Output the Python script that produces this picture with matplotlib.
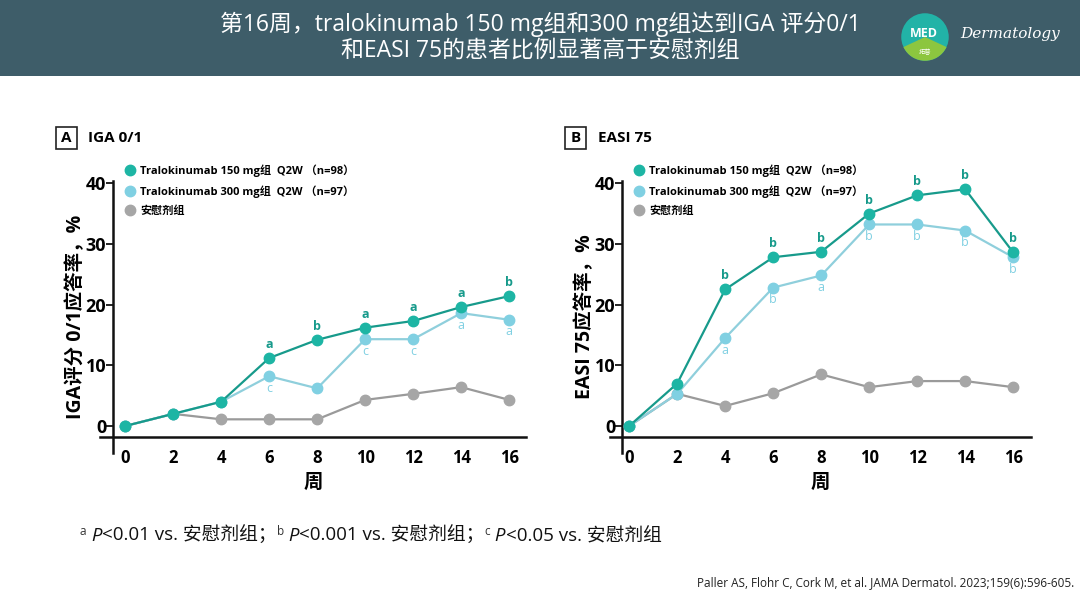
import matplotlib
matplotlib.use("Agg")
import matplotlib.pyplot as plt
from matplotlib.lines import Line2D
from matplotlib.patches import Rectangle, Circle, Wedge
from matplotlib.text import Annotation

plt.rcParams['font.family'] = ['Open Sans', 'Noto Sans CJK SC', 'DejaVu Sans']

weeks = [0, 2, 4, 6, 8, 10, 12, 14, 16]

iga_150 = [0, 2.0, 4.0, 11.2, 14.2, 16.2, 17.3, 19.6, 21.4]
iga_300 = [0, 2.0, 4.0, 8.2, 6.2, 14.3, 14.3, 18.6, 17.5]
iga_pbo = [0, 2.0, 1.1, 1.1, 1.1, 4.3, 5.3, 6.4, 4.3]
iga_sig_150 = ['', '', '', 'a', 'b', 'a', 'a', 'a', 'b']
iga_sig_300 = ['', '', '', 'c', '', 'c', 'c', 'a', 'a']

easi_150 = [0, 7.0, 22.5, 27.8, 28.7, 35.0, 38.0, 39.0, 28.6]
easi_300 = [0, 5.3, 14.5, 22.8, 24.8, 33.2, 33.2, 32.2, 27.8]
easi_pbo = [0, 5.3, 3.3, 5.4, 8.5, 6.4, 7.4, 7.4, 6.4]
easi_sig_150 = ['', '', 'b', 'b', 'b', 'b', 'b', 'b', 'b']
easi_sig_300 = ['', '', 'a', 'b', 'a', 'b', 'b', 'b', 'b']

legend_labels = ['Tralokinumab 150 mg组  Q2W （n=98）',
                 'Tralokinumab 300 mg组  Q2W （n=97）',
                 '安慰剂组']
yticks = [0, 10, 20, 30, 40]

C150_M, C150_L = '#1db5a4', '#179a8b'
C300_M, C300_L = '#80d0e2', '#8fcfdc'
CPB_M, CPB_L = '#a6a6a6', '#9a9a9a'

W, H = 1080, 608
fig = plt.figure(figsize=(W / 100, H / 100), dpi=100)
fig.patch.set_facecolor('white')

# header bar
fig.add_artist(Rectangle((0, 1 - 76 / H), 1, 76 / H, transform=fig.transFigure,
                         facecolor='#3e5d69', edgecolor='none', zorder=-5))
fig.text(540 / W, 1 - 24 / H, '第16周，tralokinumab 150 mg组和300 mg组达到IGA 评分0/1',
         color='white', fontsize=16.5, ha='center', va='center')
fig.text(540 / W, 1 - 51 / H, '和EASI 75的患者比例显著高于安慰剂组',
         color='white', fontsize=16.5, ha='center', va='center')
# logo
logo_ax = fig.add_axes([900 / W, 1 - 62 / H, 50 / W, 50 / H])
logo_ax.set_zorder(10)
logo_ax.set_xlim(-1, 1); logo_ax.set_ylim(-1, 1); logo_ax.set_aspect('equal'); logo_ax.axis('off')
logo_ax.add_patch(Circle((0, 0), 0.95, facecolor='#22b3a7', edgecolor='none'))
logo_ax.add_patch(Wedge((0, 0), 0.95, 205, 335, facecolor='#8cc63f', edgecolor='none'))
logo_ax.text(-0.05, 0.15, 'MED', color='white', fontsize=9, ha='center', va='center', fontweight='bold')
logo_ax.text(0, -0.6, '拓普', color='white', fontsize=4.5, ha='center', va='center')
fig.text(1010 / W, 1 - 34 / H, 'Dermatology', color='white', fontsize=11,
         ha='center', va='center', style='italic', family=['DejaVu Serif'])


def panel(left_px, xlim, spine_x, letter, title, box_x, title_x, ylabel,
          s150, s300, spbo, sig150, sig300):
    y0 = 426.0
    ppu = 6.07
    ylo, yhi = -4.4, 40.3
    top_px = y0 - yhi * ppu
    bot_px = y0 - ylo * ppu
    ppx = 24.0
    width_px = (xlim[1] - xlim[0]) * ppx
    ax = fig.add_axes([left_px / W, 1 - bot_px / H, width_px / W, (bot_px - top_px) / H])
    ax.set_xlim(*xlim)
    ax.set_ylim(ylo, yhi)
    ax.patch.set_alpha(0)
    for s in ['top', 'right']:
        ax.spines[s].set_visible(False)
    ax.spines['left'].set_position(('data', spine_x))
    ax.spines['bottom'].set_position(('data', -1.8))
    for s in ['left', 'bottom']:
        ax.spines[s].set_linewidth(1.8)
        ax.spines[s].set_color('#111111')
    ax.set_yticks(yticks)
    ax.set_yticklabels([str(v) for v in yticks], fontsize=13, fontweight='bold')
    ax.tick_params(axis='y', length=5, width=1.2, pad=0)
    ax.set_xticks(weeks)
    ax.set_xticklabels([str(v) for v in weeks], fontsize=12, fontweight='bold')
    ax.tick_params(axis='x', length=0, pad=9)
    ax.set_xlabel('周', fontsize=14, fontweight='bold', labelpad=4)
    ax.set_ylabel(ylabel, fontsize=14, fontweight='bold', labelpad=0)

    ax.plot(weeks, spbo, color=CPB_L, lw=1.6, marker='o', ms=7.5, mfc=CPB_M, mec=CPB_M, zorder=2)
    ax.plot(weeks, s300, color=C300_L, lw=1.6, marker='o', ms=7.5, mfc=C300_M, mec=C300_M, zorder=3)
    ax.plot(weeks, s150, color=C150_L, lw=1.6, marker='o', ms=7.5, mfc=C150_M, mec=C150_M, zorder=4)

    for x, v, t in zip(weeks, s150, sig150):
        if t:
            ax.annotate(t, (x, v), xytext=(0, 5), textcoords='offset points',
                        ha='center', va='bottom', fontsize=9, fontweight='bold', color=C150_L)
    for x, v, t in zip(weeks, s300, sig300):
        if t:
            ax.annotate(t, (x, v), xytext=(0, -4), textcoords='offset points',
                        ha='center', va='top', fontsize=9, color=C300_M)

    handles = [Line2D([], [], ls='none', marker='o', ms=7.5, mfc=c, mec=c)
               for c in (C150_M, C300_M, CPB_M)]
    fig.legend(handles, legend_labels, loc='upper left',
               bbox_to_anchor=((left_px + (spine_x - xlim[0]) * ppx + 7) / W, 1 - 160 / H),
               frameon=False, prop={'size': 8, 'weight': 'bold'}, handletextpad=0.4,
               handlelength=1.0, labelspacing=0.75, borderaxespad=0)

    # panel title
    fig.add_artist(Rectangle((box_x / W, 1 - 149 / H), 21 / W, 22 / H, transform=fig.transFigure,
                             facecolor='white', edgecolor='#222222', lw=1.2))
    fig.text((box_x + 10.5) / W, 1 - 138 / H, letter, fontsize=11, fontweight='bold',
             ha='center', va='center')
    fig.text(title_x / W, 1 - 138 / H, title, fontsize=11, fontweight='bold',
             ha='left', va='center')
    return ax


panel(100, (-1.05, 16.72), -0.5, 'A', 'IGA 0/1', 56, 88, 'IGA评分 0/1应答率，%',
      iga_150, iga_300, iga_pbo, iga_sig_150, iga_sig_300)
panel(610, (-0.8, 16.75), -0.29, 'B', 'EASI 75', 565, 598, 'EASI 75应答率，%',
      easi_150, easi_300, easi_pbo, easi_sig_150, easi_sig_300)

# footnote, chained pieces
base_y = 1 - 541 / H
sup_y = 1 - 535 / H
fn_parts = [('a', True, False), (' P', False, True), ('<0.01 vs. 安慰剂组；', False, False),
            ('b', True, False), (' P', False, True), ('<0.001 vs. 安慰剂组；', False, False),
            ('c', True, False), (' P', False, True), ('<0.05 vs. 安慰剂组', False, False)]
prev = None
for txt, sup, ital in fn_parts:
    kw = dict(fontsize=8.5 if sup else 13.5, color='#333333' if sup else '#111111',
              style='italic' if ital else 'normal', va='baseline', ha='left')
    yy = sup_y if sup else base_y
    if prev is None:
        prev = fig.text(80 / W, yy, txt, **kw)
    else:
        a = Annotation(txt, xy=(1, yy), xycoords=(prev, 'figure fraction'), **kw)
        fig.add_artist(a)
        prev = a

fig.text(1074 / W, 1 - 583 / H,
         'Paller AS, Flohr C, Cork M, et al. JAMA Dermatol. 2023;159(6):596-605.',
         fontsize=8.5, ha='right', va='center', color='#222222')

fig.savefig('out.png', dpi=100)
